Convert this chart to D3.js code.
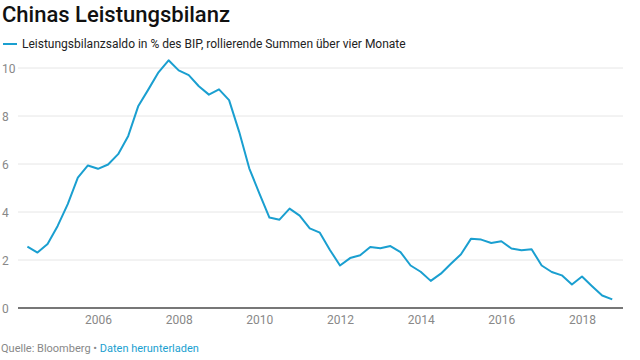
<!DOCTYPE html>
<html><head><meta charset="utf-8">
<script src="https://cdn.jsdelivr.net/npm/d3@7"></script>
<style>
body{margin:0;background:#fff;font-family:Roboto,"Noto Sans",sans-serif;}
</style></head>
<body><svg id="c" width="640" height="360"></svg>
<script>
const title = "Chinas Leistungsbilanz";
const seriesName = "Leistungsbilanzsaldo in % des BIP, rollierende Summen über vier Monate";
const startYear = 2004.25; // quarterly
const values = [2.56,2.31,2.67,3.42,4.33,5.43,5.94,5.80,5.98,6.41,7.17,8.42,9.11,9.82,10.32,9.90,9.70,9.24,8.89,9.11,8.66,7.34,5.82,4.78,3.77,3.68,4.14,3.85,3.32,3.14,2.42,1.77,2.08,2.20,2.54,2.49,2.58,2.33,1.77,1.51,1.13,1.43,1.84,2.24,2.89,2.85,2.71,2.78,2.48,2.41,2.45,1.77,1.50,1.36,0.98,1.31,0.91,0.52,0.36];
const dates = values.map((v,i)=>startYear + i*0.25);
const yTicks = [0,2,4,6,8,10];
const xTicks = [2006,2008,2010,2012,2014,2016,2018];

const svg = d3.select("#c");
const x = d3.scaleLinear().domain([2006,2018]).range([98,582]);
const y = d3.scaleLinear().domain([0,10]).range([308,68]);
const left = 18, right = 623;

svg.append("text").attr("x",2).attr("y",22).attr("font-size",22).attr("font-weight",500).attr("fill","#111").text(title);
svg.append("line").attr("x1",3).attr("x2",17).attr("y1",44).attr("y2",44).attr("stroke","#1a9fd0").attr("stroke-width",2);
svg.append("text").attr("x",22).attr("y",48).attr("font-size",12).attr("fill","#222").text(seriesName);

// grid
const yAxis = d3.axisLeft(y).tickValues(yTicks).tickSize(0).tickPadding(0);
svg.selectAll("line.grid").data(yTicks.filter(d=>d!==0)).enter().append("line")
  .attr("x1",left).attr("x2",right).attr("y1",d=>y(d)).attr("y2",d=>y(d))
  .attr("stroke","#e6e6e6").attr("stroke-width",1);
const ya = svg.append("g").call(yAxis);
ya.select(".domain").remove();
ya.selectAll("text").attr("x",2).attr("text-anchor","start").attr("fill","#888").attr("font-size",12).attr("font-family","Roboto").attr("dy","0.35em");

// x axis
const xa = svg.append("g").attr("transform","translate(0,308)").call(d3.axisBottom(x).tickValues(xTicks).tickFormat(d3.format("d")).tickSize(0).tickPadding(7));
xa.select(".domain").remove();
xa.selectAll("text").attr("fill","#888").attr("font-size",12).attr("font-family","Roboto");
svg.append("line").attr("x1",left).attr("x2",right).attr("y1",y(0)).attr("y2",y(0)).attr("stroke","#777").attr("stroke-width",2);

// line
const line = d3.line().x((d,i)=>x(dates[i])).y(d=>y(d));
svg.append("path").datum(values).attr("d",line).attr("fill","none").attr("stroke","#1a9fd0").attr("stroke-width",2).attr("stroke-linejoin","round");

// footer
const f = svg.append("text").attr("x",1).attr("y",352).attr("font-size",11).attr("fill","#888");
f.append("tspan").text("Quelle: Bloomberg • ");
f.append("tspan").attr("fill","#1a9fd0").text("Daten herunterladen");
</script></body></html>
